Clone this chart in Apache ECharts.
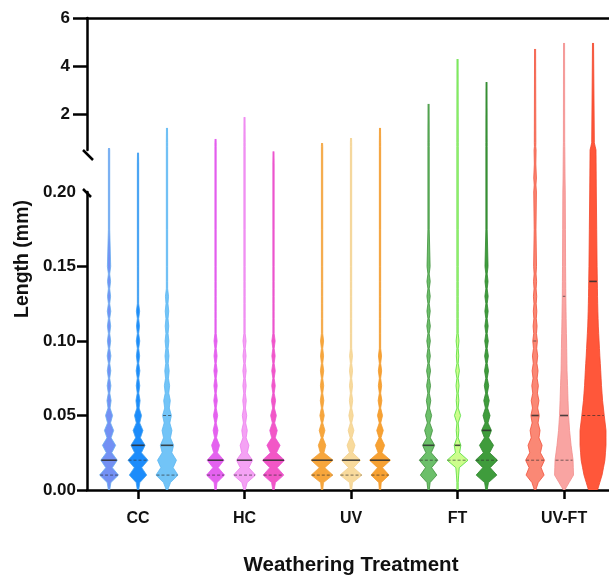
<!DOCTYPE html>
<html><head><meta charset="utf-8">
<script src="https://cdn.jsdelivr.net/npm/echarts@6/dist/echarts.min.js"></script>
<style>html,body{margin:0;padding:0;background:#fff}#c{width:609px;height:575px}</style>
</head><body><div id="c"></div>
<script>
// ---------------- data ----------------
const categories = ['CC', 'HC', 'UV', 'FT', 'UV-FT'];
const lowerTicks = [0, 0.05, 0.10, 0.15, 0.20];
const upperTicks = [2, 4, 6];
// length levels (mm) at which the violin density is given
const levels = [0, 0.01, 0.02, 0.03, 0.04, 0.05, 0.06, 0.07, 0.08, 0.09, 0.10, 0.11, 0.12, 0.13, 0.14, 0.15, 0.2, 0.3, 0.5, 0.8];
// relative density at each level, three replicates per treatment
const ccDensity = [
  [0.06, 0.86, 0.75, 0.6, 0.42, 0.32, 0.19, 0.17, 0.16, 0.17, 0.15, 0.15, 0.16, 0.14, 0.14, 0.15],
  [0.06, 0.79, 0.91, 0.64, 0.45, 0.32, 0.19, 0.16, 0.17, 0.15, 0.16, 0.14, 0.15],
  [0.06, 1.0, 0.86, 0.6, 0.45, 0.4, 0.3, 0.24, 0.2, 0.18, 0.17, 0.16, 0.16, 0.14]
];
const hcDensity = [
  [0.06, 0.82, 0.76, 0.36, 0.22, 0.19, 0.16, 0.15, 0.15, 0.14, 0.14],
  [0.06, 1.0, 0.73, 0.4, 0.25, 0.2, 0.16, 0.15, 0.15, 0.14, 0.14],
  [0.06, 0.94, 1.0, 0.6, 0.34, 0.26, 0.19, 0.16, 0.16, 0.15, 0.15]
];
const uvDensity = [
  [0.06, 0.98, 1.0, 0.34, 0.26, 0.2, 0.16, 0.15, 0.15, 0.14, 0.14],
  [0.06, 1.0, 0.86, 0.36, 0.26, 0.2, 0.15, 0.14, 0.14, 0.13],
  [0.06, 0.82, 0.95, 0.42, 0.3, 0.23, 0.17, 0.15, 0.15, 0.14]
];
const ftDensity = [
  [0.06, 0.75, 0.84, 0.55, 0.36, 0.28, 0.2, 0.18, 0.18, 0.16, 0.16, 0.16, 0.15, 0.15, 0.15, 0.14],
  [0.06, 0.1, 0.95, 0.3, 0.12, 0.28, 0.12, 0.14, 0.17, 0.11, 0.13],
  [0.06, 0.94, 1.0, 0.64, 0.45, 0.32, 0.25, 0.2, 0.18, 0.17, 0.16, 0.15, 0.15, 0.15, 0.14, 0.14]
];
const uvftDensity = [
  [0.05, 0.82, 0.86, 0.64, 0.45, 0.38, 0.35, 0.3, 0.27, 0.24, 0.21, 0.18, 0.16, 0.15, 0.14, 0.13, 0.12, 0.12, 0.09, 0.07],
  [0.05, 0.86, 0.82, 0.64, 0.5, 0.41, 0.36, 0.32, 0.27, 0.25, 0.23, 0.2, 0.18, 0.16, 0.15, 0.14, 0.11, 0.09, 0.07, 0.06],
  [0.41, 0.82, 1.08, 1.18, 1.18, 1.02, 0.87, 0.77, 0.7, 0.62, 0.55, 0.48, 0.44, 0.41, 0.39, 0.37, 0.3, 0.29, 0.27, 0.12]
];
// how continuous each distribution is between levels (1 = smooth)
const smoothness = [[0.37, 0.4, 0.6], [0.3, 0.45, 0.35], [0.25, 0.25, 0.25], [0.35, 0.3, 0.35], [0.65, 1, 1]];
const maxLength = [[0.58, 0.48, 1.42], [0.96, 1.87, 0.49], [0.79, 1.0, 1.42], [2.42, 4.29, 3.33], [4.71, 4.96, 4.96]];
const medians = [[0.02, 0.03, 0.03], [0.02, 0.02, 0.02], [0.02, 0.02, 0.02], [0.03, 0.03, 0.04], [0.05, 0.05, 0.14]];
const lowerQuartiles = [[0.01, 0.02, 0.01], [0.01, 0.01, 0.01], [0.01, 0.01, 0.01], [0.02, 0.02, 0.02], [0.02, 0.02, 0.05]];
const upperQuartiles = [[null, null, 0.05], [null, null, null], [null, null, null], [null, null, null], [0.10, 0.13, null]];

// ---------------- styles ----------------
const densities = [ccDensity, hcDensity, uvDensity, ftDensity, uvftDensity];
const fillColors = [
  ['#7390f4', '#1c8cfb', '#72c4f7'],
  ['#e462ef', '#f4a2f4', '#f257c6'],
  ['#f7a63c', '#f8da9c', '#f7a132'],
  ['#6cbf6a', '#cdfd8c', '#3f9c3c'],
  ['#fa8875', '#f9a4a2', '#ff573a']
];
const lineColors = [
  ['#6aaef0', '#3f9ff0', '#5ab6f2'],
  ['#e45aef', '#ec7cef', '#ea54d2'],
  ['#f2a23a', '#f3d08e', '#f29a2c'],
  ['#3d913b', '#4fdc3a', '#2f852d'],
  ['#f2503a', '#f28d8b', '#f2452a']
];
const FONT = '"Liberation Sans", Arial, Helvetica, sans-serif';
const MAXW = 11;      // px half-width for density 1
const THIN = 0.06;    // minimal half-width (density units)
const OFFSET = 0.272; // replicate offset in category units
const XMIN = -0.479, XMAX = 4.422;

function profile(ci, k) {
  const d = densities[ci][k], r = smoothness[ci][k], top = maxLength[ci][k];
  const dens = i => Math.max(THIN, i < d.length ? d[i] : THIN);
  const pts = [];
  for (let i = 0; i < levels.length; i++) {
    const v = levels[i];
    if (v >= top) break;
    pts.push([v, dens(i)]);
    if (i + 1 < levels.length) {
      const mid = (v + levels[i + 1]) / 2;
      if (mid < top) pts.push([mid, Math.max(THIN, r * (dens(i) + dens(i + 1)) / 2)]);
    }
  }
  pts.push([top, THIN * 0.8]);
  return pts;
}
function widthAt(prof, v) {
  if (v <= prof[0][0]) return prof[0][1];
  for (let i = 1; i < prof.length; i++) {
    if (v <= prof[i][0]) {
      const a = prof[i - 1], b = prof[i];
      return a[1] + (b[1] - a[1]) * (v - a[0]) / (b[0] - a[0]);
    }
  }
  return prof[prof.length - 1][1];
}

function makeRender(lo, hi) {
  return function (params, api) {
    const ci = api.value(0), k = api.value(1);
    const top = maxLength[ci][k];
    if (top <= lo) return null;
    const prof = profile(ci, k);
    const b = Math.min(hi, top);
    const seg = [[lo, widthAt(prof, lo)]];
    prof.forEach(p => { if (p[0] > lo && p[0] < b) seg.push(p); });
    seg.push([b, widthAt(prof, b)]);
    const band = api.size([1, 0])[0];
    const x = api.coord([ci, lo])[0] + (k - 1) * OFFSET * band;
    const yOf = v => api.coord([ci, v])[1];
    const rightSide = seg.map(p => [x + p[1] * MAXW, yOf(p[0])]);
    const leftSide = seg.map(p => [x - p[1] * MAXW, yOf(p[0])]);
    const sideStyle = { stroke: lineColors[ci][k], lineWidth: 0.8, fill: null };
    const children = [
      { type: 'polygon', shape: { points: rightSide.concat(leftSide.slice().reverse()) },
        style: { fill: fillColors[ci][k], stroke: null } },
      { type: 'polyline', shape: { points: rightSide }, style: sideStyle },
      { type: 'polyline', shape: { points: leftSide }, style: sideStyle }
    ];
    const addLine = (v, solid) => {
      if (v == null || v < lo || v > hi) return;
      const w = widthAt(prof, v) * MAXW;
      children.push({
        type: 'line',
        shape: { x1: x - w + 0.5, y1: yOf(v), x2: x + w - 0.5, y2: yOf(v) },
        style: solid ? { stroke: 'rgba(45,45,45,0.85)', lineWidth: 1.6 }
                     : { stroke: 'rgba(45,45,45,0.65)', lineWidth: 1, lineDash: [3, 2] }
      });
    };
    addLine(lowerQuartiles[ci][k], false);
    addLine(upperQuartiles[ci][k], false);
    addLine(medians[ci][k], true);
    return { type: 'group', children };
  };
}

const items = [];
categories.forEach((c, ci) => { for (let k = 0; k < 3; k++) items.push([ci, k]); });

const axisLineStyle = { color: '#000', width: 2.5 };
const titles = [
  { type: 'text', x: 23, y: 259, rotation: Math.PI / 2,
    style: { text: 'Length (mm)', font: 'bold 19.5px ' + FONT, fill: '#111', align: 'center', verticalAlign: 'middle' } },
  { type: 'text', x: 351, y: 565,
    style: { text: 'Weathering Treatment', font: 'bold 20.5px ' + FONT, fill: '#111', align: 'center', verticalAlign: 'middle' } }
];
const chart = echarts.init(document.getElementById('c'), null, { renderer: 'canvas' });
chart.setOption({
  animation: false,
  backgroundColor: '#fff',
  grid: [
    { left: 87, top: 192, right: 0, height: 298 },
    { left: 87, top: 150, right: 0, height: 42 },
    { left: 87, top: 18, right: 0, height: 132 }
  ],
  xAxis: [
    { type: 'value', gridIndex: 0, min: XMIN, max: XMAX, position: 'bottom',
      axisLine: { show: true, onZero: false, lineStyle: axisLineStyle },
      axisTick: { show: true, customValues: [0, 1, 2, 3, 4], length: 9, lineStyle: { color: '#000', width: 2.5 } },
      axisLabel: { customValues: [0, 1, 2, 3, 4], formatter: v => categories[Math.round(v)], margin: 21,
        fontSize: 16, fontWeight: 'bold', color: '#111', fontFamily: FONT },
      splitLine: { show: false } },
    { type: 'value', gridIndex: 1, min: XMIN, max: XMAX, show: false },
    { type: 'value', gridIndex: 2, min: XMIN, max: XMAX, position: 'top',
      axisLine: { show: true, onZero: false, lineStyle: axisLineStyle },
      axisTick: { show: false }, axisLabel: { show: false }, splitLine: { show: false } }
  ],
  yAxis: [
    { type: 'value', gridIndex: 0, min: 0, max: 0.2,
      axisLine: { show: true, onZero: false, lineStyle: axisLineStyle },
      axisTick: { show: true, customValues: [0, 0.05, 0.10, 0.15], length: 10, lineStyle: { color: '#000', width: 2.5 } },
      axisLabel: { customValues: lowerTicks, formatter: v => v.toFixed(2), margin: 11,
        fontSize: 17, fontWeight: 'bold', color: '#111', fontFamily: FONT },
      splitLine: { show: false } },
    { type: 'value', gridIndex: 1, min: 0.2, max: 0.5, show: false },
    { type: 'value', gridIndex: 2, min: 0.5, max: 6,
      axisLine: { show: true, onZero: false, lineStyle: axisLineStyle },
      axisTick: { show: true, customValues: upperTicks, length: 14, lineStyle: { color: '#000', width: 2.5 } },
      axisLabel: { customValues: upperTicks, formatter: v => String(v), margin: 17,
        fontSize: 17, fontWeight: 'bold', color: '#111', fontFamily: FONT },
      splitLine: { show: false } }
  ],
  series: [
    { type: 'custom', xAxisIndex: 0, yAxisIndex: 0, data: items, encode: { x: 0, y: 1 }, renderItem: makeRender(0, 0.2), clip: false, silent: true },
    { type: 'custom', xAxisIndex: 1, yAxisIndex: 1, data: items, encode: { x: 0, y: 1 }, renderItem: makeRender(0.2, 0.5), clip: false, silent: true },
    { type: 'custom', xAxisIndex: 2, yAxisIndex: 2, data: items, encode: { x: 0, y: 1 }, renderItem: makeRender(0.5, 6), clip: false, silent: true }
  ],
  graphic: titles
});

// axis break marks, positioned from the axes
const ax = chart.convertToPixel({ xAxisIndex: 0 }, XMIN);
const yUp = chart.convertToPixel({ yAxisIndex: 2 }, 0.5);
const yLow = chart.convertToPixel({ yAxisIndex: 0 }, 0.2);
chart.setOption({
  graphic: titles.concat([
    { type: 'line', shape: { x1: ax - 4, y1: yUp, x2: ax + 6, y2: yUp + 10 }, style: { stroke: '#000', lineWidth: 2.5 } },
    { type: 'line', shape: { x1: ax - 4, y1: yLow - 3, x2: ax + 4, y2: yLow + 5 }, style: { stroke: '#000', lineWidth: 2.5 } }
  ])
});
</script>
</body></html>
